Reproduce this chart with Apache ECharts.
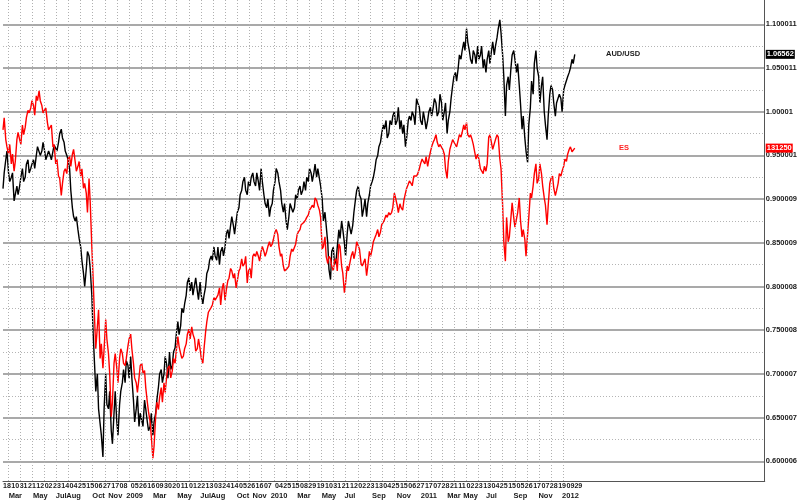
<!DOCTYPE html>
<html><head><meta charset="utf-8">
<script src="https://cdn.jsdelivr.net/npm/echarts@6/dist/echarts.min.js"></script>
<style>html,body{margin:0;padding:0;background:#fff}#c{width:800px;height:501px}</style>
</head><body><div id="c"></div>
<script>
// ---- data: two readings per week (Monday and Thursday) from 2008-02-18 ----
const startDate = '2008-02-18';
const axisDays = 1922;
const weekStep = 7;
const midOffset = 3;

const audUsdMon = [
 0.912,0.945,0.930,0.925,0.898,0.915,0.915,0.935,0.925,0.945,
 0.935,0.945,0.950,0.960,0.955,0.955,0.945,0.950,0.955,0.960,
 0.965,0.980,0.965,0.950,0.935,0.890,0.875,0.865,0.845,0.815,
 0.820,0.835,0.790,0.710,0.700,0.660,0.605,0.700,0.660,0.635,
 0.655,0.645,0.665,0.690,0.690,0.710,
 0.720,0.670,0.660,0.640,0.655,0.670,0.645,0.640,0.630,0.655,
 0.685,0.705,0.700,0.710,0.725,0.710,0.730,0.760,0.755,0.770,
 0.790,0.810,0.805,0.790,0.795,0.805,0.780,0.800,0.820,0.835,
 0.845,0.830,0.825,0.845,0.845,0.865,0.870,0.870,0.875,0.890,
 0.910,0.925,0.905,0.915,0.930,0.915,0.920,0.935,0.905,0.890,
 0.880,0.895,
 0.920,0.930,0.910,0.885,0.875,0.880,0.895,0.890,0.900,0.915,
 0.910,0.910,0.920,0.930,0.930,0.925,0.935,0.900,0.885,0.850,
 0.808,0.845,0.830,0.865,0.875,0.850,0.860,0.875,0.870,0.900,
 0.915,0.900,0.890,0.880,0.905,0.920,0.935,0.950,0.965,0.985,
 0.990,0.975,0.985,1.000,0.990,0.980,0.975,0.960,0.990,0.990,
 0.995,1.015,
 1.005,0.985,0.990,0.990,1.005,1.005,1.010,1.000,1.010,1.000,
 0.975,1.000,1.030,1.045,1.050,1.060,1.080,1.095,1.070,1.055,
 1.065,1.075,1.065,1.050,1.045,1.070,1.070,1.065,1.085,1.105,
 1.065,0.995,1.040,1.050,1.070,1.045,1.030,0.980,0.970,0.942,
 1.005,1.020,1.070,1.040,1.030,1.000,0.968,1.020,1.025,0.995,
 1.010,1.015,
 1.025,1.030,1.045,1.060,1.06562
];
const audUsdThu = [
 0.930,0.955,0.920,0.930,0.905,0.905,0.925,0.920,0.940,0.930,
 0.940,0.935,0.960,0.950,0.965,0.945,0.955,0.945,0.962,0.955,
 0.975,0.970,0.955,0.945,0.910,0.880,0.880,0.855,0.830,0.800,
 0.840,0.820,0.750,0.680,0.660,0.630,0.660,0.665,0.680,0.620,
 0.680,0.630,0.680,0.705,0.715,0.695,
 0.695,0.645,0.675,0.655,0.640,0.660,0.635,0.655,0.645,0.670,
 0.700,0.690,0.720,0.695,0.705,0.725,0.745,0.745,0.775,0.780,
 0.805,0.795,0.790,0.810,0.785,0.790,0.790,0.815,0.830,0.830,
 0.835,0.845,0.840,0.835,0.860,0.855,0.880,0.860,0.885,0.905,
 0.920,0.910,0.920,0.925,0.920,0.930,0.910,0.920,0.895,0.900,
 0.890,0.910,
 0.935,0.920,0.895,0.895,0.865,0.895,0.885,0.905,0.910,0.905,
 0.920,0.925,0.935,0.920,0.940,0.935,0.915,0.875,0.870,0.820,
 0.840,0.825,0.845,0.855,0.865,0.835,0.875,0.860,0.885,0.910,
 0.905,0.880,0.900,0.895,0.915,0.925,0.945,0.960,0.975,0.980,
 0.970,0.990,0.995,0.985,1.005,0.990,0.985,0.970,0.995,1.000,
 0.985,1.010,
 0.990,1.000,0.980,1.000,0.995,1.015,0.995,1.020,0.990,1.010,
 0.990,1.015,1.040,1.035,1.065,1.070,1.070,1.080,1.060,1.070,
 1.055,1.060,1.075,1.060,1.060,1.055,1.080,1.075,1.095,1.090,
 1.040,1.030,1.025,1.065,1.060,1.055,1.010,0.995,0.955,0.985,
 1.035,1.055,1.050,1.010,1.040,0.985,0.995,1.030,1.010,1.010,
 1.020,1.000,
 1.030,1.040,1.050,1.055
];

const esMon = [
 1350,1330,1300,1280,1265,1330,1330,1360,1355,1390,
 1395,1400,1420,1430,1400,1385,1365,1350,1315,1280,
 1255,1215,1265,1260,1295,1300,1285,1275,1255,1230,
 1220,1250,1110,960,900,880,860,960,890,760,
 870,860,880,890,865,905,
 930,870,830,840,870,855,790,750,675,760,
 775,820,830,845,865,855,870,925,890,885,
 910,940,945,920,900,900,870,935,975,985,
 1005,1000,1025,1025,1000,1040,1065,1045,1025,1060,
 1085,1075,1035,1065,1090,1090,1090,1100,1100,1100,
 1120,1115,
 1140,1135,1090,1070,1060,1070,1105,1100,1135,1145,
 1155,1165,1175,1190,1190,1205,1185,1105,1130,1075,
 1085,1060,1085,1115,1070,1015,1070,1060,1100,1100,
 1120,1075,1070,1050,1100,1105,1120,1145,1140,1160,
 1175,1180,1180,1220,1195,1198,1185,1220,1238,1240,
 1255,1255,
 1270,1290,1280,1275,1305,1325,1340,1315,1320,1300,
 1250,1310,1330,1325,1315,1335,1360,1365,1335,1330,
 1320,1300,1270,1260,1265,1335,1340,1310,1340,1290,
 1195,1080,1120,1170,1170,1150,1210,1130,1125,1090,
 1220,1235,1280,1250,1260,1210,1155,1240,1255,1215,
 1240,1255,
 1275,1285,1310,1305,1312.5
];
const esThu = [
 1375,1315,1320,1300,1285,1345,1320,1340,1375,1385,
 1410,1380,1410,1410,1385,1395,1350,1360,1320,1290,
 1250,1240,1270,1290,1275,1310,1265,1285,1270,1240,
 1180,1200,1050,900,980,910,900,920,850,790,
 890,830,900,870,880,920,
 900,840,810,865,850,820,770,720,700,790,
 800,790,810,860,840,880,895,905,880,900,
 930,920,930,895,920,880,900,955,975,990,
 1000,1010,990,1035,1020,1045,1060,1055,1040,1065,
 1070,1090,1060,1045,1095,1100,1080,1110,1090,1110,
 1110,1125,
 1145,1110,1095,1060,1065,1090,1100,1115,1140,1155,
 1160,1170,1185,1195,1210,1195,1170,1110,1090,1090,
 1070,1080,1060,1110,1055,1035,1060,1090,1085,1120,
 1105,1070,1085,1070,1090,1120,1135,1130,1155,1165,
 1170,1175,1190,1210,1180,1190,1205,1230,1245,1235,
 1258,1260,
 1280,1285,1295,1290,1315,1330,1325,1320,1310,1270,
 1285,1310,1325,1315,1340,1345,1350,1340,1340,1320,
 1290,1290,1270,1275,1280,1340,1310,1330,1335,1270,
 1120,1170,1130,1200,1150,1180,1165,1145,1090,1170,
 1210,1260,1240,1280,1235,1195,1195,1250,1230,1225,
 1260,1265,
 1290,1300,1315,1305
];

const dayTickDates = [
 '2008-02-18','2008-03-10','2008-03-31','2008-04-21','2008-05-12','2008-06-02','2008-06-23','2008-07-14','2008-08-04','2008-08-25','2008-09-15','2008-10-06','2008-10-27','2008-11-17','2008-12-08',
 '2009-01-05','2009-01-26','2009-02-16','2009-03-09','2009-03-30','2009-04-20','2009-05-11','2009-06-01','2009-06-22','2009-07-13','2009-08-03','2009-08-24','2009-09-14','2009-10-05','2009-10-26','2009-11-16','2009-12-07',
 '2010-01-04','2010-01-25','2010-02-15','2010-03-08','2010-03-29','2010-04-19','2010-05-10','2010-05-31','2010-06-21','2010-07-12','2010-08-02','2010-08-23','2010-09-13','2010-10-04','2010-10-25','2010-11-15','2010-12-06','2010-12-27',
 '2011-01-17','2011-02-07','2011-02-28','2011-03-21','2011-04-11','2011-05-02','2011-05-23','2011-06-13','2011-07-04','2011-07-25','2011-08-15','2011-09-05','2011-09-26','2011-10-17','2011-11-07','2011-11-28','2011-12-19',
 '2012-01-09','2012-01-29'
];

const monthLabels = [
 ['2008-03-10','Mar'],['2008-05-12','May'],['2008-07-14','Jul'],['2008-08-04','Aug'],['2008-10-06','Oct'],['2008-11-17','Nov'],['2009-01-05','2009'],
 ['2009-03-09','Mar'],['2009-05-11','May'],['2009-07-13','Jul'],['2009-08-03','Aug'],['2009-10-05','Oct'],['2009-11-16','Nov'],['2010-01-04','2010'],
 ['2010-03-08','Mar'],['2010-05-10','May'],['2010-07-12','Jul'],['2010-09-13','Sep'],['2010-11-15','Nov'],['2011-01-17','2011'],
 ['2011-03-21','Mar'],['2011-05-02','May'],['2011-07-04','Jul'],['2011-09-05','Sep'],['2011-11-07','Nov'],['2012-01-09','2012']
];

const yTickValues = [1.100011,1.050011,1.00001,0.950001,0.900009,0.850009,0.800008,0.750008,0.700007,0.650007,0.600006];
const yTickLabels = ['1.100011','1.050011','1.00001','0.950001','0.900009','0.850009','0.800008','0.750008','0.700007','0.650007','0.600006'];
const yMidValues = [1.075,1.025,0.975,0.925,0.875,0.825,0.775,0.725,0.675,0.625];
const gridFirstMonth = '2008-03-01';
const gridLastMonth = '2012-01-01';

// ---- build ----
function addDays(s, n){ const d = new Date(s + 'T00:00:00Z'); d.setUTCDate(d.getUTCDate() + n); return d.toISOString().slice(0,10); }
const categories = [];
for (let i = 0; i < axisDays; i++) categories.push(addDays(startDate, i));
const dayTickSet = new Set(dayTickDates);
const monthMap = new Map(monthLabels);
const monthGridDates = categories.filter(v => v.slice(8, 10) === '01' && v >= gridFirstMonth && v <= gridLastMonth);
function interleave(mon, thu){
  const out = [];
  mon.forEach((v, w) => { out.push([w * weekStep, v]); if (w < thu.length) out.push([w * weekStep + midOffset, thu[w]]); });
  return out;
}
const FONT = 'Liberation Sans, Arial, sans-serif';
const txt = {fontSize: 7.5, fontWeight: 'bold', fontFamily: FONT, color: '#1a1a1a'};

const lastAud = audUsdMon[audUsdMon.length - 1];
const lastEs = esMon[esMon.length - 1];

const chart = echarts.init(document.getElementById('c'), null, {renderer: 'canvas'});
chart.setOption({
  animation: false,
  backgroundColor: '#fff',
  grid: {left: 0, top: 0, width: 767, height: 481, containLabel: false},
  xAxis: [
    {type: 'category', data: categories, boundaryGap: false, position: 'bottom',
     axisLine: {show: true, lineStyle: {color: '#555', width: 1}},
     axisTick: {show: false},
     axisLabel: Object.assign({}, txt, {interval: (i, v) => dayTickSet.has(v), formatter: v => v.slice(8, 10),
       align: 'left', margin: 2, showMaxLabel: true, showMinLabel: true, fontSize: 7.1}),
     splitLine: {show: false}},
    {type: 'category', data: categories, boundaryGap: false, position: 'bottom',
     axisLine: {show: false}, axisTick: {show: false}, splitLine: {show: false},
     axisLabel: {interval: (i, v) => monthMap.has(v), showMaxLabel: true, showMinLabel: true,
       formatter: v => { const t = monthMap.get(v); return '{' + (t === 'Jul' ? 'j' : 'm') + '|' + t + '}'; },
       align: 'center', margin: 11,
       rich: {m: Object.assign({padding: [0, 0, 0, 8]}, txt), j: Object.assign({padding: [0, 0, 0, 0]}, txt)}}}
  ],
  yAxis: [
    {type: 'value', position: 'right', min: 0.57748, max: 1.12781,
     axisLine: {show: true, lineStyle: {color: '#555', width: 1}},
     axisTick: {show: false, customValues: yTickValues},
     axisLabel: Object.assign({customValues: yTickValues, margin: 1,
       formatter: v => { const i = yTickValues.findIndex(t => Math.abs(t - v) < 1e-7); return i >= 0 ? yTickLabels[i] : ''; }}, txt),
     splitLine: {show: true, lineStyle: {color: '#8c8c8c', width: 1.5}}},
    {type: 'value', position: 'right', min: 0.57748, max: 1.12781,
     axisLine: {show: false}, axisLabel: {show: false, customValues: yMidValues},
     axisTick: {show: false, customValues: yMidValues},
     splitLine: {show: true, lineStyle: {color: '#b4b4b4', width: 1, type: [1, 2]}}},
    {type: 'value', position: 'right', min: 628, max: 1617, show: false, splitLine: {show: false}}
  ],
  series: [
    {name: 'monthGrid', type: 'line', xAxisIndex: 0, yAxisIndex: 0, data: [], z: 1, silent: true,
     markLine: {symbol: 'none', silent: true, animation: false, label: {show: false},
       lineStyle: {color: '#b0b0b0', width: 1, type: [1, 2]},
       emphasis: {disabled: true},
       data: monthGridDates.map(d => ({xAxis: d}))}},
    {name: 'AUD/USD', type: 'line', xAxisIndex: 0, yAxisIndex: 0, symbol: 'none', z: 3,
     data: interleave(audUsdMon, audUsdThu),
     lineStyle: {color: '#000', width: 1.4}, itemStyle: {color: '#000'},
     markLine: {symbol: 'none', silent: true, animation: false, precision: 5,
       lineStyle: {color: 'rgba(0,0,0,0)', width: 0},
       label: {show: true, position: 'end', distance: 1, formatter: () => lastAud.toFixed(5),
         backgroundColor: '#000', color: '#fff', fontSize: 7.5, fontWeight: 'bold', fontFamily: FONT, padding: [1, 1, 0, 1]},
       data: [{yAxis: lastAud}]}},
    {name: 'ES', type: 'line', xAxisIndex: 0, yAxisIndex: 2, symbol: 'none', z: 4,
     data: interleave(esMon, esThu),
     lineStyle: {color: '#ff0000', width: 1.4}, itemStyle: {color: '#ff0000'},
     markLine: {symbol: 'none', silent: true, animation: false, precision: 2,
       lineStyle: {color: 'rgba(0,0,0,0)', width: 0},
       label: {show: true, position: 'end', distance: 1, formatter: () => lastEs.toFixed(2).replace('.', ''),
         backgroundColor: '#ff0000', color: '#fff', fontSize: 7.5, fontWeight: 'bold', fontFamily: FONT, padding: [1, 1, 0, 1]},
       data: [{yAxis: lastEs}]}}
  ]
});
const yA = chart.convertToPixel({yAxisIndex: 0}, lastAud);
const yE = chart.convertToPixel({yAxisIndex: 2}, lastEs);
chart.setOption({graphic: [
  {type: 'text', x: 606, y: yA, style: {text: 'AUD/USD', fill: '#1a1a1a', font: 'bold 7.5px ' + FONT, verticalAlign: 'middle'}},
  {type: 'text', x: 619, y: yE, style: {text: 'ES', fill: '#ff2020', font: 'bold 7.5px ' + FONT, verticalAlign: 'middle'}}
]});
</script></body></html>
